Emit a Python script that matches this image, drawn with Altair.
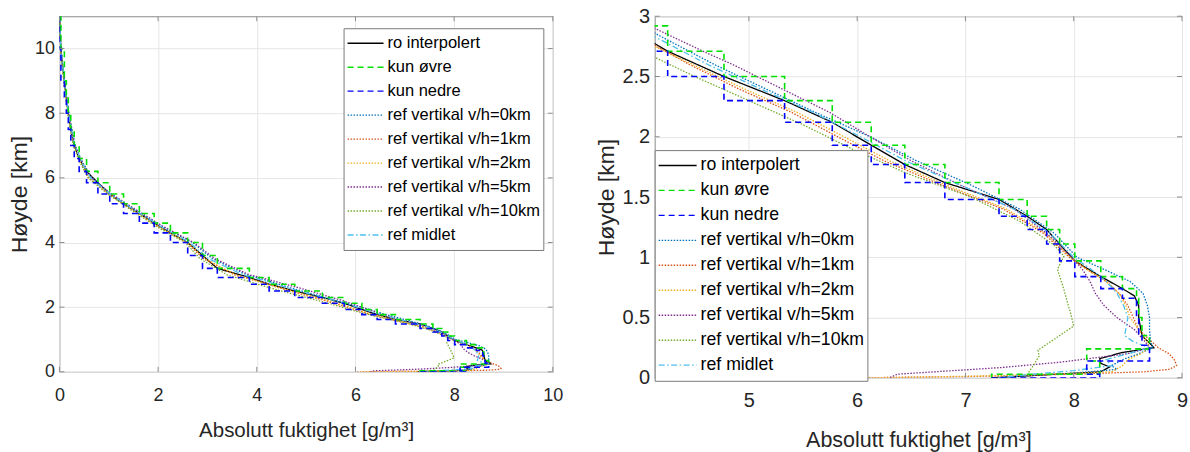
import altair as alt
import pandas as pd

SERIES = ["ro interpolert", "kun øvre", "kun nedre",
          "ref vertikal v/h=0km", "ref vertikal v/h=1km", "ref vertikal v/h=2km",
          "ref vertikal v/h=5km", "ref vertikal v/h=10km", "ref midlet"]
COLORS = ["#000000", "#00e000", "#0000ff", "#0072BD", "#D95319", "#EDB120",
          "#7E2F8E", "#77AC30", "#4DBEEE"]
DASHES = [[1, 0], [6, 4], [6, 4], [1.5, 1.5], [1.5, 1.5], [1.5, 1.5],
          [1.5, 1.5], [1.5, 1.5], [6, 2.5, 1.5, 2.5]]

# ro interpolert (black)
ro_h = [11.0, 10.5, 10.0, 9.5, 9.0, 8.5, 8.0, 7.5, 7.0, 6.6, 6.2, 5.85, 5.5, 5.2, 4.9, 4.6,
        4.3, 4.0, 3.6, 3.2, 2.92, 2.71, 2.5, 2.3, 2.12, 1.93, 1.77, 1.62, 1.48, 1.34, 1.23,
        1.11, 0.97, 0.84, 0.74, 0.68, 0.6, 0.5, 0.35, 0.27, 0.25, 0.21, 0.16, 0.12, 0.09,
        0.05, 0.0]
ro_x = [0.0, 0.01, 0.03, 0.06, 0.1, 0.14, 0.18, 0.23, 0.3, 0.4, 0.55, 0.78, 1.02, 1.3, 1.62,
        1.92, 2.25, 2.6, 2.9, 3.2, 3.85, 4.25, 4.77, 5.33, 5.77, 6.13, 6.44, 6.81, 7.31, 7.57,
        7.75, 7.87, 8.01, 8.25, 8.45, 8.56, 8.6, 8.6, 8.63, 8.72, 8.74, 8.45, 8.24, 8.25, 8.33,
        8.25, 7.24]

# level values used by "kun øvre" / "kun nedre" (drawn as steps)
lvl_h = [11.0, 10.0, 9.0, 8.5, 8.0, 7.5, 7.0, 6.6, 6.2, 5.85, 5.5, 5.2, 4.9, 4.6, 4.3, 4.0,
         3.6, 3.2, 2.92, 2.71, 2.5, 2.3, 2.12, 1.93, 1.77, 1.62, 1.48, 1.34, 1.23, 1.11, 0.97,
         0.84, 0.74, 0.66, 0.5, 0.35, 0.27, 0.24, 0.14, 0.03, 0.0]
lvl_x = [0.0, 0.03, 0.1, 0.14, 0.18, 0.23, 0.3, 0.4, 0.55, 0.78, 1.02, 1.3, 1.62, 1.92, 2.25,
         2.6, 2.9, 3.2, 3.85, 4.25, 4.77, 5.33, 5.77, 6.13, 6.44, 6.81, 7.31, 7.57, 7.75, 7.87,
         8.01, 8.25, 8.45, 8.58, 8.6, 8.63, 8.7, 8.7, 8.12, 8.24, 7.24]

H_up = [11.0, 10.0, 9.0, 8.0, 7.0, 6.5, 6.0, 5.5, 5.0, 4.5, 4.0, 3.5, 3.0]

ref0_h = H_up + [2.86, 2.6, 2.4, 2.2, 2.0, 1.8, 1.6, 1.4, 1.2, 1.0, 0.9, 0.8, 0.7, 0.6, 0.5,
                 0.4, 0.3, 0.25, 0.2, 0.15, 0.1, 0.07, 0.04, 0.02, 0.0]
ref0_x = [0.0, 0.03, 0.1, 0.19, 0.32, 0.46, 0.66, 1.05, 1.55, 2.08, 2.7, 3.1, 3.8,
          4.13, 4.68, 5.15, 5.62, 6.12, 6.55, 7.05, 7.5, 7.82, 8.03, 8.28, 8.52, 8.64, 8.68,
          8.7, 8.7, 8.71, 8.73, 8.6, 8.45, 8.35, 8.4, 8.0, 7.6, 7.3]

ref1_h = H_up + [2.76, 2.6, 2.4, 2.2, 2.0, 1.8, 1.6, 1.4, 1.2, 1.0, 0.9, 0.8, 0.7, 0.6, 0.5,
                 0.4, 0.3, 0.25, 0.2, 0.15, 0.1, 0.07, 0.05, 0.03, 0.01, 0.0]
ref1_x = [0.0, 0.03, 0.09, 0.17, 0.29, 0.42, 0.6, 1.0, 1.5, 2.0, 2.58, 2.92, 3.55,
          4.13, 4.45, 4.9, 5.4, 5.82, 6.25, 6.78, 7.35, 7.72, 7.96, 8.12, 8.3, 8.42, 8.5,
          8.55, 8.6, 8.72, 8.78, 8.88, 8.93, 8.95, 8.88, 8.65, 8.0, 7.0, 6.0]

ref2_h = H_up + [2.75, 2.6, 2.4, 2.2, 2.0, 1.8, 1.6, 1.4, 1.2, 1.0, 0.9, 0.8, 0.7, 0.6, 0.5,
                 0.4, 0.3, 0.25, 0.2, 0.15, 0.1, 0.05, 0.02, 0.0]
ref2_x = [0.0, 0.03, 0.09, 0.17, 0.29, 0.43, 0.61, 1.0, 1.5, 2.0, 2.6, 2.95, 3.58,
          4.13, 4.48, 4.95, 5.45, 5.88, 6.3, 6.82, 7.38, 7.74, 7.97, 8.12, 8.3, 8.42, 8.48,
          8.52, 8.6, 8.68, 8.7, 8.62, 8.5, 8.45, 8.35, 7.5, 6.1]

ref5_h = H_up + [2.9, 2.7, 2.6, 2.4, 2.2, 2.0, 1.8, 1.6, 1.4, 1.2, 1.0, 0.9, 0.8, 0.7, 0.6,
                 0.5, 0.4, 0.3, 0.25, 0.2, 0.13, 0.085, 0.03, 0.0]
ref5_x = [0.0, 0.03, 0.1, 0.19, 0.31, 0.46, 0.65, 1.05, 1.57, 2.1, 2.72, 3.15, 3.85,
          4.13, 4.6, 4.85, 5.3, 5.75, 6.12, 6.5, 6.95, 7.45, 7.75, 7.98, 8.08, 8.15, 8.2,
          8.28, 8.4, 8.56, 8.66, 8.7, 8.5, 7.88, 7.33, 6.37, 6.3]

ref10_h = H_up + [2.66, 2.5, 2.3, 2.1, 1.9, 1.7, 1.5, 1.3, 1.1, 1.01, 0.9, 0.73, 0.6, 0.54,
                  0.43, 0.32, 0.23, 0.18, 0.12, 0.04, 0.0]
ref10_x = [0.0, 0.02, 0.09, 0.17, 0.28, 0.41, 0.58, 0.98, 1.46, 1.96, 2.55, 2.85, 3.4,
           4.13, 4.5, 5.0, 5.5, 5.95, 6.45, 7.05, 7.5, 7.82, 7.91, 7.85, 7.91, 7.95, 7.97,
           8.0, 7.82, 7.67, 7.68, 7.64, 7.58, 7.6]

mid_h = H_up + [2.83, 2.6, 2.4, 2.2, 2.0, 1.8, 1.6, 1.4, 1.2, 1.0, 0.9, 0.8, 0.7, 0.6, 0.5,
                0.4, 0.35, 0.3, 0.25, 0.2, 0.15, 0.1, 0.06, 0.02, 0.0]
mid_x = [0.0, 0.03, 0.1, 0.18, 0.31, 0.45, 0.63, 1.03, 1.53, 2.05, 2.64, 3.02, 3.72,
         4.13, 4.62, 5.1, 5.6, 6.03, 6.45, 6.95, 7.45, 7.78, 8.0, 8.16, 8.3, 8.4, 8.46,
         8.5, 8.48, 8.47, 8.55, 8.7, 8.5, 8.3, 8.35, 8.0, 7.5, 7.3]


def rows(name, xs, hs):
    return [{"serie": name, "x": x, "h": h, "ord": i} for i, (x, h) in enumerate(zip(xs, hs))]


lines_rows = (rows(SERIES[0], ro_x, ro_h) + rows(SERIES[3], ref0_x, ref0_h)
              + rows(SERIES[4], ref1_x, ref1_h) + rows(SERIES[5], ref2_x, ref2_h)
              + rows(SERIES[6], ref5_x, ref5_h) + rows(SERIES[7], ref10_x, ref10_h)
              + rows(SERIES[8], mid_x, mid_h))
lines_df = pd.DataFrame(lines_rows)
upper_df = pd.DataFrame(rows(SERIES[1], lvl_x, lvl_h))
lower_df = pd.DataFrame(rows(SERIES[2], lvl_x, lvl_h))

FONT = "Liberation Sans"
TXT = "#262626"
FRAME = "#8c8c8c"
LABEL = "'' + datum.value"


def panel(xdom, ydom, xticks, yticks, W, H, legx, legy, lab_fs, leg_fs, title_fs,
          xlabpad, xtitlepad, sym, cliph):
    leg = alt.Legend(orient="none", legendX=legx, legendY=legy, title=None,
                     fillColor="white", strokeColor="#7a7a7a", padding=3,
                     symbolType="stroke", symbolSize=sym * sym, symbolStrokeWidth=1.4,
                     labelFont=FONT, labelFontSize=leg_fs, labelColor="#000000",
                     labelOffset=3, clipHeight=cliph, rowPadding=0, labelLimit=0)
    color = alt.Color("serie:N", scale=alt.Scale(domain=SERIES, range=COLORS), legend=leg)
    dash = alt.StrokeDash("serie:N", scale=alt.Scale(domain=SERIES, range=DASHES), legend=leg)
    xenc = alt.X("x:Q", scale=alt.Scale(domain=xdom, nice=False, zero=False),
                 axis=alt.Axis(values=xticks, title="Absolutt fuktighet [g/m³]", labelExpr=LABEL,
                               ticks=False, tickSize=0, domain=False, grid=True,
                               gridColor="#e6e6e6", labelFont=FONT, labelFontSize=lab_fs,
                               labelColor=TXT, labelPadding=xlabpad, titleFont=FONT,
                               titleFontSize=title_fs, titleFontWeight="normal",
                               titleColor=TXT, titlePadding=xtitlepad, labelFlush=False))
    yenc = alt.Y("h:Q", scale=alt.Scale(domain=ydom, nice=False, zero=False),
                 axis=alt.Axis(values=yticks, title="Høyde [km]", labelExpr=LABEL,
                               ticks=False, tickSize=0, domain=False, grid=True,
                               gridColor="#e6e6e6", labelFont=FONT, labelFontSize=lab_fs,
                               labelColor=TXT, labelPadding=5, titleFont=FONT,
                               titleFontSize=23, titleFontWeight="normal",
                               titleColor=TXT, titlePadding=3, labelFlush=False))
    solid = alt.Chart(lines_df).mark_line(strokeWidth=1.3, clip=True).encode(
        x=xenc, y=yenc, color=color, strokeDash=dash, order="ord:Q")
    up = alt.Chart(upper_df).mark_line(strokeWidth=1.6, clip=True, interpolate="step-after").encode(
        x=xenc, y=yenc, color=color, strokeDash=dash, order="ord:Q")
    down = alt.Chart(lower_df).mark_line(strokeWidth=1.6, clip=True, interpolate="step-before").encode(
        x=xenc, y=yenc, color=color, strokeDash=dash, order="ord:Q")
    xt = pd.DataFrame({"x": xticks})
    yt = pd.DataFrame({"h": yticks})
    tb = alt.Chart(xt).mark_rule(color=FRAME, strokeWidth=1).encode(
        x="x:Q", y=alt.value(H), y2=alt.value(H - 5))
    tt = alt.Chart(xt).mark_rule(color=FRAME, strokeWidth=1).encode(
        x="x:Q", y=alt.value(0), y2=alt.value(5))
    tl = alt.Chart(yt).mark_rule(color=FRAME, strokeWidth=1).encode(
        y="h:Q", x=alt.value(0), x2=alt.value(5))
    tr = alt.Chart(yt).mark_rule(color=FRAME, strokeWidth=1).encode(
        y="h:Q", x=alt.value(W), x2=alt.value(W - 5))
    return alt.layer(solid, up, down, tb, tt, tl, tr).properties(width=W, height=H)


left = panel([0, 10], [0, 11], [0, 2, 4, 6, 8, 10], [0, 2, 4, 6, 8, 10],
             494, 356, 284.5, 12, 18, 16.5, 20.5, 15, 16, 36, 24)
right = panel([4.13, 9], [0, 3], [5, 6, 7, 8, 9], [0, 0.5, 1, 1.5, 2, 2.5, 3],
              528, 362, 0, 134, 20, 17.7, 21.5, 13, 19, 38, 24.7)

chart = (alt.hconcat(left, right, spacing=31)
         .resolve_scale(color="independent", strokeDash="independent", x="independent",
                        y="independent")
         .resolve_legend(color="independent", strokeDash="independent")
         .properties(padding={"left": 7.5, "top": 5, "right": 1, "bottom": 0},
                     background="white")
         .configure_view(stroke=FRAME, strokeWidth=1))

chart.save("out.html", embed_options={"renderer": "svg", "actions": False})
